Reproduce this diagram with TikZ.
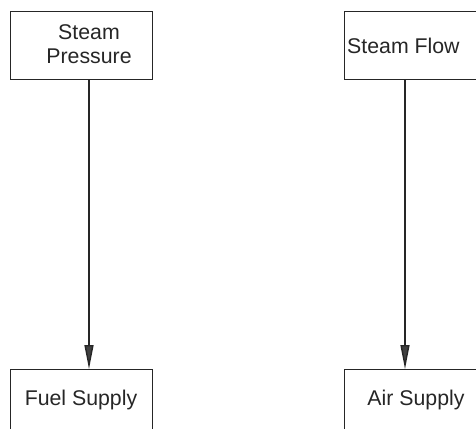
\documentclass[tikz,border=0pt]{standalone}
\usepackage{fontspec}
\setmainfont{Liberation Sans}
\usetikzlibrary{arrows.meta,positioning}

\begin{document}
\begin{tikzpicture}[x=1pt,y=-1pt,
	box/.style={draw=black!85, line width=1.2pt, anchor=north west, minimum width=142pt, minimum height=68pt, inner sep=0pt},
	lbl/.style={font=\fontsize{21.3}{24}\selectfont, text=black!85, inner sep=0pt, align=center},
	flow/.style={draw=black!85, line width=1.4pt, -{Triangle[length=24pt,width=9pt,fill=black!75]}}]
	%% frame
	\useasboundingbox (0,0) rectangle (476,428);
	\clip (0,0) rectangle (476,428);
	%% boxes
	\node[box] (press) at (10,11) {};
	\node[box, minimum width=150pt] (sflow) at (344,11) {};
	\node[box] (fuel) at (10,369) {};
	\node[box, minimum width=150pt] (air) at (344,369) {};
	%% texts
	\node[lbl, anchor=base] (presst) at (89,63.3) {Steam\\Pressure};
	\node[lbl, anchor=base west] (sflowt) at (347,53.3) {Steam Flow};
	\node[lbl, anchor=base] (fuelt) at (81,405) {Fuel Supply};
	\node[lbl, anchor=base] (airt) at (416,405) {Air Supply};
	%% connectors
	\coordinate (pressout) at (89,79);
	\coordinate (sflowout) at (405,79);
	\draw[flow] (pressout) -- (pressout |- fuel.north);
	\draw[flow] (sflowout) -- (sflowout |- air.north);
\end{tikzpicture}
\end{document}
